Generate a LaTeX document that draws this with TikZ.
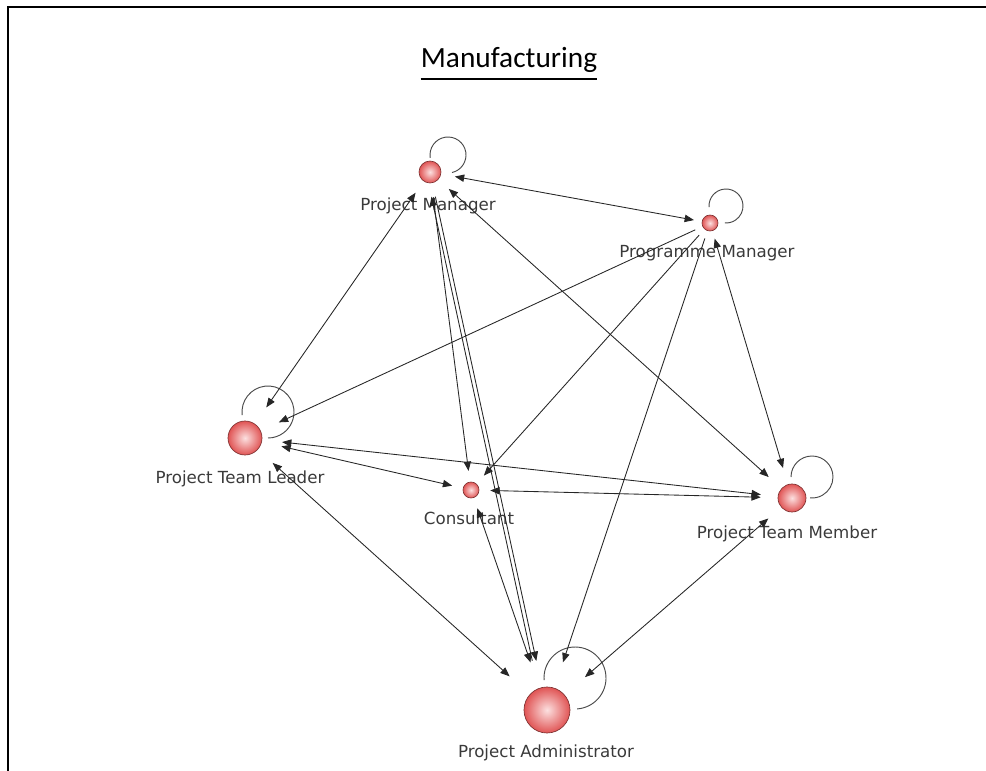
\documentclass[tikz,border=0pt]{standalone}
\usepackage{fontspec}
\setmainfont{DejaVu Sans}
\newfontfamily\titlefont{Carlito}
\usetikzlibrary{arrows.meta,calc}

\definecolor{tiegray}{HTML}{262626}
\definecolor{loopgray}{HTML}{4A4A4A}
\definecolor{balllight}{HTML}{FCE0E0}
\definecolor{balldark}{HTML}{E05454}
\definecolor{ballrim}{HTML}{7E3232}
\definecolor{labelgray}{HTML}{3A3A3A}

\tikzset{
  % invisible reach circle of an actor; #1 = reach radius in px
  actor/.style={circle, inner sep=0pt, minimum size=#1*1.5pt},
  tip/.tip={Triangle[length=7pt,width=5.5pt]},
  tie/.style={draw=tiegray, line width=0.65pt, -tip},
  mutual/.style={draw=tiegray, line width=0.65pt, tip-tip},
  selfloop/.style={draw=loopgray, line width=0.7pt},
  ball/.style={inner color=balllight, outer color=balldark, draw=ballrim, line width=0.5pt},
  rolename/.style={font=\fontsize{12.5}{14}\selectfont, text=labelgray, anchor=base, inner sep=0pt},
}

% self loop: node, centre offset (dx,dy), radius, start angle, end angle
\newcommand\roleloop[6]{%
  \draw[selfloop] ($(#1)+(#2,#3)+(#5:#4)$) arc[start angle=#5, end angle=#6, radius=#4];}

\begin{document}
\begin{tikzpicture}[x=0.75pt, y=-0.75pt]
\path[use as bounding box] (0,0) rectangle (986,771);

% frame
\draw[line width=1.8pt] (986,7) -- (8,7) -- (8,771);

% title
\node[font=\titlefont\fontsize{22}{26}\selectfont, anchor=base, inner sep=0pt] (title) at (509,67) {Manufacturing};
\draw[line width=1.8pt] ([yshift=-9pt]title.base west) -- ([yshift=-9pt]title.base east);

% actors
\node[actor=25] (PM)  at (430,172) {};
\node[actor=16] (PgM) at (710,223) {};
\node[actor=37] (PTL) at (245,438) {};
\node[actor=19] (C)   at (471,490) {};
\node[actor=31] (PTM) at (792,498) {};
\node[actor=50] (PA)  at (547,710) {};

\shadedraw[ball] (PM)  circle[radius=11];
\shadedraw[ball] (PgM) circle[radius=8];
\shadedraw[ball] (PTL) circle[radius=17];
\shadedraw[ball] (C)   circle[radius=8];
\shadedraw[ball] (PTM) circle[radius=14];
\shadedraw[ball] (PA)  circle[radius=23];

% names
\node[rolename] (PMname)  at (428,210) {Project Manager};
\node[rolename] (PgMname) at (707,257) {Programme Manager};
\node[rolename] (PTLname) at (240,483) {Project Team Leader};
\node[rolename] (Cname)   at (469,524) {Consultant};
\node[rolename] (PTMname) at (787,538) {Project Team Member};
\node[rolename] (PAname)  at (546,757) {Project Administrator};

% self loops
\roleloop{PM}{18}{-17}{18}{171}{437}
\roleloop{PgM}{16}{-17}{17}{176}{454}
\roleloop{PTL}{23}{-26}{26}{173}{450}
\roleloop{PTM}{20}{-21}{21}{180}{455}
\roleloop{PA}{28}{-32}{31}{176}{446}

% ties
\draw[mutual] (PM) -- (PgM);
\draw[mutual] (PM) -- (PTL);
\draw[tie] (PgM) -- (PTL);
\draw[mutual] (PTL) -- (C);
\draw[mutual] (PTL) -- (PTM);
\draw[mutual] (PTL) -- (PA);
\draw[tie] (PM) -- (C);
\draw[tie] (PM) -- (PA);
\draw[tie, transform canvas={xshift=-3pt}] (PA) -- (PM);
\draw[mutual] (C) -- (PA);
\draw[tie] (PgM) -- (C);
\draw[tie] (PgM) -- (PA);
\draw[mutual] (PgM) -- (PTM);
\draw[mutual] (PM) -- (PTM);
\draw[mutual] (C) -- (PTM);
\draw[mutual] (PTM) -- (PA);
\end{tikzpicture}
\end{document}
